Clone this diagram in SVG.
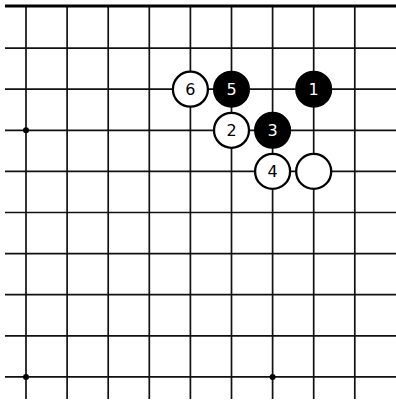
<svg xmlns="http://www.w3.org/2000/svg" width="396" height="403" viewBox="0 0 396 403">
<style>
.g{stroke:#111;stroke-width:1.7;fill:none}
.edge{stroke:#000;stroke-width:3}
.hoshi{fill:#000}
.b{fill:#000;stroke:#000;stroke-width:1.5}
.w{fill:#fff;stroke:#000;stroke-width:2.3}
.n{font-family:"DejaVu Sans",Verdana,sans-serif;font-size:16px;text-anchor:middle;dominant-baseline:central}
.nb{fill:#fff}
.nw{fill:#000}
</style>
<rect width="396" height="403" fill="#fff"/>
<g id="grid">
<g class="g">
<line x1="5" y1="48.1" x2="396" y2="48.1"/>
<line x1="5" y1="89.2" x2="396" y2="89.2"/>
<line x1="5" y1="130.3" x2="396" y2="130.3"/>
<line x1="5" y1="171.4" x2="396" y2="171.4"/>
<line x1="5" y1="212.5" x2="396" y2="212.5"/>
<line x1="5" y1="253.6" x2="396" y2="253.6"/>
<line x1="5" y1="294.7" x2="396" y2="294.7"/>
<line x1="5" y1="335.8" x2="396" y2="335.8"/>
<line x1="5" y1="376.9" x2="396" y2="376.9"/>
<line x1="26" y1="6" x2="26" y2="399"/>
<line x1="67.1" y1="6" x2="67.1" y2="399"/>
<line x1="108.2" y1="6" x2="108.2" y2="399"/>
<line x1="149.3" y1="6" x2="149.3" y2="399"/>
<line x1="190.4" y1="6" x2="190.4" y2="399"/>
<line x1="231.5" y1="6" x2="231.5" y2="399"/>
<line x1="272.6" y1="6" x2="272.6" y2="399"/>
<line x1="313.7" y1="6" x2="313.7" y2="399"/>
<line x1="354.8" y1="6" x2="354.8" y2="399"/>
</g>
<line class="edge" x1="5" y1="6" x2="396" y2="6"/>
<circle class="hoshi" cx="26" cy="130.3" r="3"/>
<circle class="hoshi" cx="26" cy="376.9" r="3"/>
<circle class="hoshi" cx="272.6" cy="376.9" r="3"/>
</g>
<g id="stone-1"><circle class="b" cx="313.7" cy="89.2" r="17.8"/><text class="n nb" x="313.7" y="89.7">1</text></g>
<g id="stone-2"><circle class="w" cx="231.5" cy="130.3" r="17.5"/><text class="n nw" x="231.5" y="130.8">2</text></g>
<g id="stone-3"><circle class="b" cx="272.6" cy="130.3" r="17.8"/><text class="n nb" x="272.6" y="130.8">3</text></g>
<g id="stone-4"><circle class="w" cx="272.6" cy="171.4" r="17.5"/><text class="n nw" x="272.6" y="171.9">4</text></g>
<g id="stone-5"><circle class="b" cx="231.5" cy="89.2" r="17.8"/><text class="n nb" x="231.5" y="89.7">5</text></g>
<g id="stone-6"><circle class="w" cx="190.4" cy="89.2" r="17.5"/><text class="n nw" x="190.4" y="89.7">6</text></g>
<g id="stone-w"><circle class="w" cx="313.7" cy="171.4" r="17.5"/></g>
</svg>
